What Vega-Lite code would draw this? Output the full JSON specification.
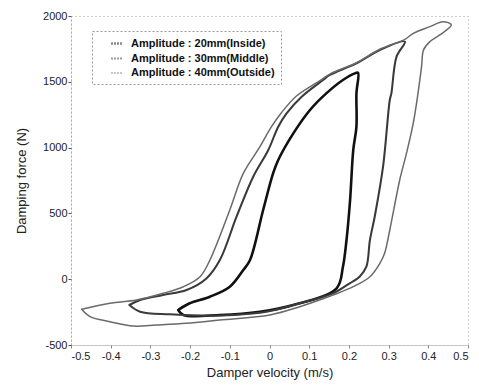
{
  "$schema": "https://vega.github.io/schema/vega-lite/v6.json",
  "width": 397,
  "height": 329,
  "autosize": "none",
  "padding": {"left": 71, "top": 16, "right": 11, "bottom": 41},
  "background": "white",
  "config": {
    "font": "Liberation Sans",
    "view": {"stroke": "#999", "strokeDash": [1, 3], "strokeWidth": 1}
  },
  "data": {
    "values": [
      {"s": "Amplitude : 20mm(Inside)", "i": 1, "v": -0.230, "f": -234},
      {"s": "Amplitude : 20mm(Inside)", "i": 2, "v": -0.201, "f": -183},
      {"s": "Amplitude : 20mm(Inside)", "i": 3, "v": -0.150, "f": -133},
      {"s": "Amplitude : 20mm(Inside)", "i": 4, "v": -0.100, "f": -57},
      {"s": "Amplitude : 20mm(Inside)", "i": 5, "v": -0.066, "f": 70},
      {"s": "Amplitude : 20mm(Inside)", "i": 6, "v": -0.049, "f": 146},
      {"s": "Amplitude : 20mm(Inside)", "i": 7, "v": -0.016, "f": 526},
      {"s": "Amplitude : 20mm(Inside)", "i": 8, "v": 0.009, "f": 804},
      {"s": "Amplitude : 20mm(Inside)", "i": 9, "v": 0.022, "f": 906},
      {"s": "Amplitude : 20mm(Inside)", "i": 10, "v": 0.060, "f": 1108},
      {"s": "Amplitude : 20mm(Inside)", "i": 11, "v": 0.102, "f": 1286},
      {"s": "Amplitude : 20mm(Inside)", "i": 12, "v": 0.143, "f": 1412},
      {"s": "Amplitude : 20mm(Inside)", "i": 13, "v": 0.185, "f": 1514},
      {"s": "Amplitude : 20mm(Inside)", "i": 14, "v": 0.215, "f": 1564},
      {"s": "Amplitude : 20mm(Inside)", "i": 15, "v": 0.223, "f": 1569},
      {"s": "Amplitude : 20mm(Inside)", "i": 16, "v": 0.219, "f": 1412},
      {"s": "Amplitude : 20mm(Inside)", "i": 17, "v": 0.219, "f": 1159},
      {"s": "Amplitude : 20mm(Inside)", "i": 18, "v": 0.211, "f": 982},
      {"s": "Amplitude : 20mm(Inside)", "i": 19, "v": 0.203, "f": 602},
      {"s": "Amplitude : 20mm(Inside)", "i": 20, "v": 0.194, "f": 298},
      {"s": "Amplitude : 20mm(Inside)", "i": 21, "v": 0.185, "f": 95},
      {"s": "Amplitude : 20mm(Inside)", "i": 22, "v": 0.169, "f": -69},
      {"s": "Amplitude : 20mm(Inside)", "i": 23, "v": 0.060, "f": -196},
      {"s": "Amplitude : 20mm(Inside)", "i": 24, "v": -0.024, "f": -247},
      {"s": "Amplitude : 20mm(Inside)", "i": 25, "v": -0.125, "f": -272},
      {"s": "Amplitude : 20mm(Inside)", "i": 26, "v": -0.217, "f": -272},
      {"s": "Amplitude : 20mm(Inside)", "i": 27, "v": -0.230, "f": -234},

      {"s": "Amplitude : 30mm(Middle)", "i": 1, "v": -0.353, "f": -196},
      {"s": "Amplitude : 30mm(Middle)", "i": 2, "v": -0.326, "f": -247},
      {"s": "Amplitude : 30mm(Middle)", "i": 3, "v": -0.251, "f": -267},
      {"s": "Amplitude : 30mm(Middle)", "i": 4, "v": -0.167, "f": -277},
      {"s": "Amplitude : 30mm(Middle)", "i": 5, "v": -0.091, "f": -272},
      {"s": "Amplitude : 30mm(Middle)", "i": 6, "v": -0.008, "f": -247},
      {"s": "Amplitude : 30mm(Middle)", "i": 7, "v": 0.076, "f": -183},
      {"s": "Amplitude : 30mm(Middle)", "i": 8, "v": 0.160, "f": -108},
      {"s": "Amplitude : 30mm(Middle)", "i": 9, "v": 0.202, "f": -31},
      {"s": "Amplitude : 30mm(Middle)", "i": 10, "v": 0.227, "f": 19},
      {"s": "Amplitude : 30mm(Middle)", "i": 11, "v": 0.244, "f": 95},
      {"s": "Amplitude : 30mm(Middle)", "i": 12, "v": 0.253, "f": 298},
      {"s": "Amplitude : 30mm(Middle)", "i": 13, "v": 0.265, "f": 475},
      {"s": "Amplitude : 30mm(Middle)", "i": 14, "v": 0.286, "f": 855},
      {"s": "Amplitude : 30mm(Middle)", "i": 15, "v": 0.303, "f": 1362},
      {"s": "Amplitude : 30mm(Middle)", "i": 16, "v": 0.307, "f": 1412},
      {"s": "Amplitude : 30mm(Middle)", "i": 17, "v": 0.320, "f": 1691},
      {"s": "Amplitude : 30mm(Middle)", "i": 18, "v": 0.341, "f": 1805},
      {"s": "Amplitude : 30mm(Middle)", "i": 19, "v": 0.278, "f": 1742},
      {"s": "Amplitude : 30mm(Middle)", "i": 20, "v": 0.219, "f": 1640},
      {"s": "Amplitude : 30mm(Middle)", "i": 21, "v": 0.152, "f": 1552},
      {"s": "Amplitude : 30mm(Middle)", "i": 22, "v": 0.135, "f": 1514},
      {"s": "Amplitude : 30mm(Middle)", "i": 23, "v": 0.081, "f": 1387},
      {"s": "Amplitude : 30mm(Middle)", "i": 24, "v": 0.043, "f": 1260},
      {"s": "Amplitude : 30mm(Middle)", "i": 25, "v": 0.022, "f": 1159},
      {"s": "Amplitude : 30mm(Middle)", "i": 26, "v": -0.003, "f": 982},
      {"s": "Amplitude : 30mm(Middle)", "i": 27, "v": -0.041, "f": 779},
      {"s": "Amplitude : 30mm(Middle)", "i": 28, "v": -0.083, "f": 475},
      {"s": "Amplitude : 30mm(Middle)", "i": 29, "v": -0.125, "f": 146},
      {"s": "Amplitude : 30mm(Middle)", "i": 30, "v": -0.159, "f": 6},
      {"s": "Amplitude : 30mm(Middle)", "i": 31, "v": -0.209, "f": -82},
      {"s": "Amplitude : 30mm(Middle)", "i": 32, "v": -0.268, "f": -120},
      {"s": "Amplitude : 30mm(Middle)", "i": 33, "v": -0.326, "f": -158},
      {"s": "Amplitude : 30mm(Middle)", "i": 34, "v": -0.353, "f": -196},

      {"s": "Amplitude : 40mm(Outside)", "i": 1, "v": -0.473, "f": -229},
      {"s": "Amplitude : 40mm(Outside)", "i": 2, "v": -0.452, "f": -285},
      {"s": "Amplitude : 40mm(Outside)", "i": 3, "v": -0.402, "f": -323},
      {"s": "Amplitude : 40mm(Outside)", "i": 4, "v": -0.343, "f": -356},
      {"s": "Amplitude : 40mm(Outside)", "i": 5, "v": -0.284, "f": -348},
      {"s": "Amplitude : 40mm(Outside)", "i": 6, "v": -0.209, "f": -335},
      {"s": "Amplitude : 40mm(Outside)", "i": 7, "v": -0.125, "f": -310},
      {"s": "Amplitude : 40mm(Outside)", "i": 8, "v": 0.001, "f": -272},
      {"s": "Amplitude : 40mm(Outside)", "i": 9, "v": 0.076, "f": -209},
      {"s": "Amplitude : 40mm(Outside)", "i": 10, "v": 0.160, "f": -120},
      {"s": "Amplitude : 40mm(Outside)", "i": 11, "v": 0.211, "f": -57},
      {"s": "Amplitude : 40mm(Outside)", "i": 12, "v": 0.253, "f": 19},
      {"s": "Amplitude : 40mm(Outside)", "i": 13, "v": 0.278, "f": 121},
      {"s": "Amplitude : 40mm(Outside)", "i": 14, "v": 0.290, "f": 197},
      {"s": "Amplitude : 40mm(Outside)", "i": 15, "v": 0.303, "f": 374},
      {"s": "Amplitude : 40mm(Outside)", "i": 16, "v": 0.328, "f": 754},
      {"s": "Amplitude : 40mm(Outside)", "i": 17, "v": 0.345, "f": 956},
      {"s": "Amplitude : 40mm(Outside)", "i": 18, "v": 0.362, "f": 1184},
      {"s": "Amplitude : 40mm(Outside)", "i": 19, "v": 0.374, "f": 1412},
      {"s": "Amplitude : 40mm(Outside)", "i": 20, "v": 0.383, "f": 1615},
      {"s": "Amplitude : 40mm(Outside)", "i": 21, "v": 0.388, "f": 1742},
      {"s": "Amplitude : 40mm(Outside)", "i": 22, "v": 0.404, "f": 1805},
      {"s": "Amplitude : 40mm(Outside)", "i": 23, "v": 0.429, "f": 1856},
      {"s": "Amplitude : 40mm(Outside)", "i": 24, "v": 0.458, "f": 1932},
      {"s": "Amplitude : 40mm(Outside)", "i": 25, "v": 0.437, "f": 1957},
      {"s": "Amplitude : 40mm(Outside)", "i": 26, "v": 0.404, "f": 1919},
      {"s": "Amplitude : 40mm(Outside)", "i": 27, "v": 0.362, "f": 1868},
      {"s": "Amplitude : 40mm(Outside)", "i": 28, "v": 0.341, "f": 1823},
      {"s": "Amplitude : 40mm(Outside)", "i": 29, "v": 0.278, "f": 1747},
      {"s": "Amplitude : 40mm(Outside)", "i": 30, "v": 0.219, "f": 1645},
      {"s": "Amplitude : 40mm(Outside)", "i": 31, "v": 0.152, "f": 1559},
      {"s": "Amplitude : 40mm(Outside)", "i": 32, "v": 0.127, "f": 1509},
      {"s": "Amplitude : 40mm(Outside)", "i": 33, "v": 0.068, "f": 1392},
      {"s": "Amplitude : 40mm(Outside)", "i": 34, "v": 0.030, "f": 1265},
      {"s": "Amplitude : 40mm(Outside)", "i": 35, "v": 0.005, "f": 1159},
      {"s": "Amplitude : 40mm(Outside)", "i": 36, "v": -0.024, "f": 1007},
      {"s": "Amplitude : 40mm(Outside)", "i": 37, "v": -0.066, "f": 804},
      {"s": "Amplitude : 40mm(Outside)", "i": 38, "v": -0.100, "f": 526},
      {"s": "Amplitude : 40mm(Outside)", "i": 39, "v": -0.150, "f": 146},
      {"s": "Amplitude : 40mm(Outside)", "i": 40, "v": -0.175, "f": 19},
      {"s": "Amplitude : 40mm(Outside)", "i": 41, "v": -0.217, "f": -57},
      {"s": "Amplitude : 40mm(Outside)", "i": 42, "v": -0.268, "f": -107},
      {"s": "Amplitude : 40mm(Outside)", "i": 43, "v": -0.335, "f": -158},
      {"s": "Amplitude : 40mm(Outside)", "i": 44, "v": -0.402, "f": -183},
      {"s": "Amplitude : 40mm(Outside)", "i": 45, "v": -0.473, "f": -229}
    ]
  },
  "mark": {"type": "line", "interpolate": "catmull-rom", "strokeJoin": "round", "strokeCap": "round"},
  "encoding": {
    "x": {
      "field": "v", "type": "quantitative",
      "scale": {"domain": [-0.5, 0.5], "nice": false, "zero": false},
      "axis": {
        "title": "Damper velocity (m/s)", "titleFontSize": 13, "titleFontWeight": "normal", "titleColor": "#222", "titlePadding": 5,
        "values": [-0.5, -0.4, -0.3, -0.2, -0.1, 0, 0.1, 0.2, 0.3, 0.4, 0.5],
        "labelExpr": "datum.value == 0 ? '0' : replace(format(datum.value, '.1f'), '\u2212', '-')",
        "labelFontSize": 11, "labelColor": "#222", "labelPadding": 2,
        "grid": false, "domainColor": "#888", "domainDash": [1, 3], "tickColor": "#888", "tickSize": 3
      }
    },
    "y": {
      "field": "f", "type": "quantitative",
      "scale": {"domain": [-500, 2000], "nice": false, "zero": false},
      "axis": {
        "title": "Damping force (N)", "titleFontSize": 13, "titleFontWeight": "normal", "titleColor": "#222", "titlePadding": 14,
        "values": [-500, 0, 500, 1000, 1500, 2000],
        "labelExpr": "replace(format(datum.value, 'd'), '\u2212', '-')",
        "labelFontSize": 11, "labelColor": "#222", "labelPadding": 1,
        "grid": false, "domainColor": "#888", "domainDash": [1, 3], "tickColor": "#555", "tickSize": 3
      }
    },
    "order": {"field": "i", "type": "quantitative"},
    "color": {
      "field": "s", "type": "nominal",
      "scale": {
        "domain": ["Amplitude : 20mm(Inside)", "Amplitude : 30mm(Middle)", "Amplitude : 40mm(Outside)"],
        "range": ["#111111", "#3a3a3a", "#6a6a6a"]
      },
      "legend": {
        "title": null, "orient": "none", "legendX": 21, "legendY": 15,
        "symbolType": "stroke", "symbolSize": 100, "symbolStrokeWidth": 1, "symbolOffset": 12,
        "labelFontSize": 11, "labelFontWeight": "bold", "labelColor": "#111", "labelOffset": 8,
        "rowPadding": 3, "padding": 6,
        "strokeColor": "#999", "fillColor": "white",
        "encode": {
          "symbols": {"update": {"stroke": {"value": "#bbbbbb"}, "strokeDash": {"value": [1, 2]}}},
          "legend": {"update": {"strokeDash": {"value": [2, 2]}}}
        }
      }
    },
    "strokeWidth": {
      "field": "s", "type": "nominal",
      "scale": {
        "domain": ["Amplitude : 20mm(Inside)", "Amplitude : 30mm(Middle)", "Amplitude : 40mm(Outside)"],
        "range": [2.6, 1.5, 1.0]
      },
      "legend": null
    }
  }
}
